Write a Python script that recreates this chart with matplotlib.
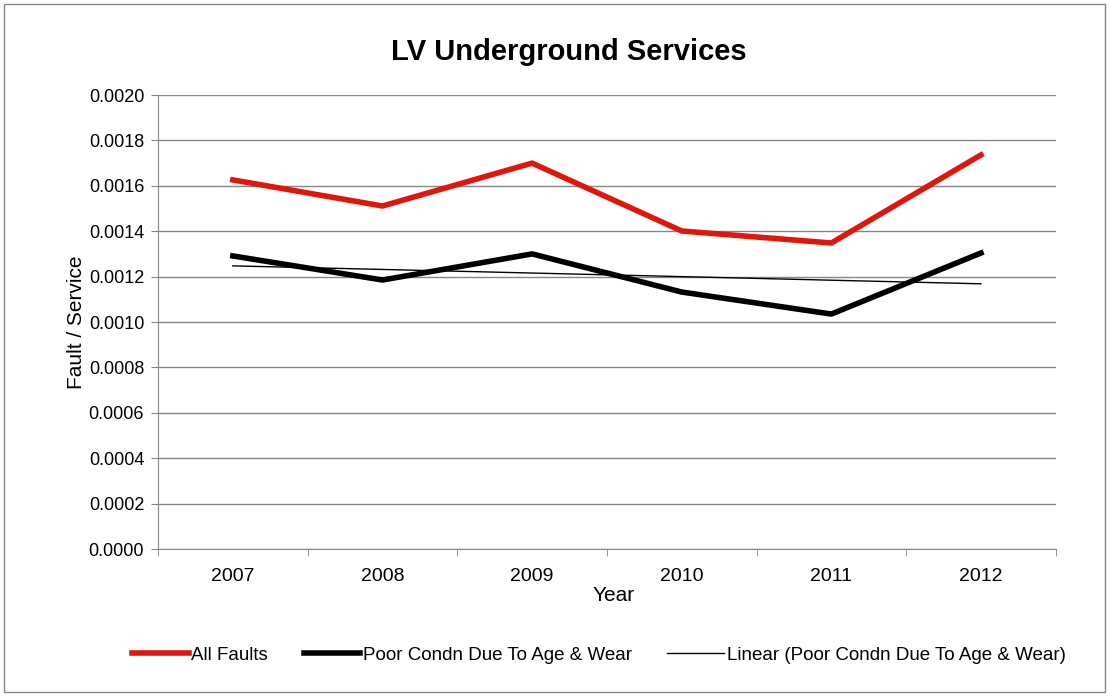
import numpy as np
import matplotlib
matplotlib.use("Agg")
import matplotlib.pyplot as plt
from matplotlib.patches import Rectangle

years = ["2007", "2008", "2009", "2010", "2011", "2012"]
all_faults = [0.001626, 0.001511, 0.001700, 0.001401, 0.001348, 0.001736]
poor_condn = [0.001291, 0.001185, 0.001300, 0.001132, 0.001035, 0.001304]

plt.rcParams['font.family'] = ['Liberation Sans', 'DejaVu Sans']

fig = plt.figure(figsize=(11.09, 6.96), dpi=100)
ax = fig.add_axes([0.1425, 0.2112, 0.8095, 0.6523])

x = np.arange(len(years))
coef = np.polyfit(x, poor_condn, 1)
trend = np.polyval(coef, x)

ax.plot(x, all_faults, color='#e0160c', lw=4, label='All Faults', solid_joinstyle='round')
ax.plot(x, poor_condn, color='black', lw=4, label='Poor Condn Due To Age & Wear', solid_joinstyle='round')
ax.plot(x, trend, color='black', lw=1, label='Linear (Poor Condn Due To Age & Wear)')

ax.set_xlim(-0.5, 5.5)
ax.set_ylim(0, 0.002)
yt = np.arange(0, 0.00201, 0.0002)
ax.set_yticks(yt)
ax.set_yticklabels([f"{v:.4f}" for v in yt])
ax.set_xticks(x)
ax.set_xticklabels(years)
ax.set_xticks(np.arange(-0.5, 5.6, 1), minor=True)
ax.tick_params(axis='x', which='major', length=0, pad=14, labelsize=14)
ax.tick_params(axis='x', which='minor', length=5, color='#868686', direction='out')
ax.tick_params(axis='y', length=5, color='#868686', labelsize=13, pad=5)

ax.grid(axis='y', color='#868686', lw=1)
ax.set_axisbelow(True)
for s in ['top', 'right']:
    ax.spines[s].set_visible(False)
for s in ['left', 'bottom']:
    ax.spines[s].set_color('#868686')

fig.text(0.513, 0.926, "LV Underground Services", fontsize=21, fontweight='bold',
         ha='center', va='center')
ax.set_xlabel("Year", fontsize=15, labelpad=2)
ax.xaxis.set_label_coords(0.507, -0.082)
ax.set_ylabel("Fault / Service", fontsize=15, labelpad=2)

fig.legend(loc='lower center', bbox_to_anchor=(0.54, 0.022), ncol=3, frameon=False,
           fontsize=13.5, handlelength=3.0, handletextpad=0.15, columnspacing=1.9)

fig.patches.append(Rectangle((0.004, 0.006), 0.992, 0.988, transform=fig.transFigure,
                             fill=False, edgecolor='#868686', lw=1))

fig.savefig("out.png", dpi=100)
